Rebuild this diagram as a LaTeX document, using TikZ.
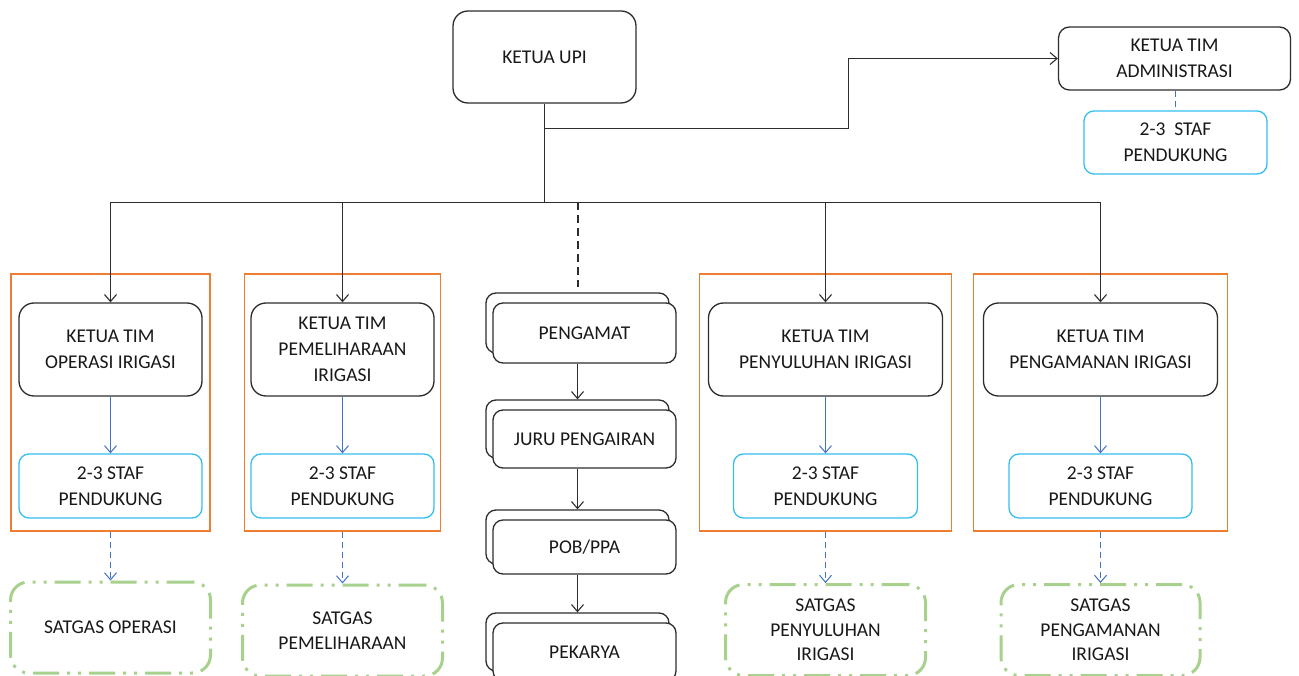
\documentclass[tikz,border=0pt]{standalone}
\usepackage{fontspec}
\setmainfont{Carlito}
\usetikzlibrary{arrows.meta}

\definecolor{frameorange}{RGB}{237,125,49}
\definecolor{stafblue}{RGB}{51,190,240}
\definecolor{linkblue}{RGB}{68,114,196}
\definecolor{satgasgreen}{RGB}{169,209,142}
\definecolor{boxgray}{RGB}{45,45,45}

\tikzset{
  lbl/.style={font=\fontsize{19.5}{26}\selectfont, align=center, text=black!90, inner sep=0pt},
  chief/.style={lbl, draw=boxgray, line width=1.3pt, rounded corners=15pt, fill=white},
  stafbox/.style={lbl, draw=stafblue, line width=1.3pt, rounded corners=10pt, fill=white},
  unitframe/.style={draw=frameorange, line width=1.2pt, inner sep=0pt},
  satgas/.style={lbl, font=\fontsize{19.5}{24.5}\selectfont, draw=satgasgreen, line width=3pt,
    rounded corners=18pt, dash pattern=on 26pt off 8pt on 3pt off 8pt on 3pt off 8pt},
  unitbox/.style={lbl, draw=boxgray, line width=1.3pt, rounded corners=10pt, fill=white,
    minimum width=183pt},
  tip/.style={-{Straight Barb[length=7pt,width=12pt]}},
  link/.style={draw=boxgray, line width=1.1pt},
  bluelink/.style={draw=linkblue, line width=1pt},
  bluedash/.style={bluelink, dash pattern=on 6pt off 4pt},
}

\begin{document}
\begin{tikzpicture}[x=1pt,y=-1pt]
\clip (0,0) rectangle (1299,676);
\fill[white] (0,0) rectangle (1299,676);

% orange frames around each team
\node[unitframe, minimum width=199pt, minimum height=257pt] (o1) at (110.5,402.5) {};
\node[unitframe, minimum width=196pt, minimum height=257pt] (o2) at (342.5,402.5) {};
\node[unitframe, minimum width=252pt, minimum height=257pt] (o3) at (825.5,402.5) {};
\node[unitframe, minimum width=254pt, minimum height=257pt] (o4) at (1100.5,402.5) {};

% top level
\node[chief, minimum width=183pt, minimum height=92pt] (upi) at (544.5,57) {KETUA UPI};
\node[chief, rounded corners=11pt, minimum width=232pt, minimum height=63pt] (adm) at (1174.5,58.5) {KETUA TIM\\ADMINISTRASI};
\node[stafbox, minimum width=183pt, minimum height=63pt] (admstaf) at (1175.5,142.5) {2-3\ \ STAF\\PENDUKUNG};

% team leaders
\node[chief, minimum width=183pt, minimum height=93pt] (k1) at (110.5,349.5) {KETUA TIM\\OPERASI IRIGASI};
\node[chief, minimum width=183pt, minimum height=93pt] (k2) at (342.5,349.5) {KETUA TIM\\PEMELIHARAAN\\IRIGASI};
\node[chief, minimum width=234pt, minimum height=93pt] (k3) at (825.5,349.5) {KETUA TIM\\PENYULUHAN IRIGASI};
\node[chief, minimum width=234pt, minimum height=93pt] (k4) at (1100.5,349.5) {KETUA TIM\\PENGAMANAN IRIGASI};

% support staff
\node[stafbox, minimum width=183pt, minimum height=64pt] (s1) at (110.5,486) {2-3 STAF\\PENDUKUNG};
\node[stafbox, minimum width=183pt, minimum height=64pt] (s2) at (342.5,486) {2-3 STAF\\PENDUKUNG};
\node[stafbox, minimum width=184pt, minimum height=64pt] (s3) at (825.5,486) {2-3 STAF\\PENDUKUNG};
\node[stafbox, minimum width=183pt, minimum height=64pt] (s4) at (1100.5,486) {2-3 STAF\\PENDUKUNG};

% task forces
\node[satgas, minimum width=200pt, minimum height=91pt] (g1) at (110.5,627.5) {SATGAS OPERASI};
\node[satgas, minimum width=200pt, minimum height=91pt] (g2) at (342.5,630.5) {SATGAS\\PEMELIHARAAN};
\node[satgas, minimum width=200pt, minimum height=91pt] (g3) at (825.5,630) {SATGAS\\PENYULUHAN\\IRIGASI};
\node[satgas, minimum width=199pt, minimum height=91pt] (g4) at (1100.5,630) {SATGAS\\PENGAMANAN\\IRIGASI};

% field staff column (stacked boxes)
\node[unitbox, minimum height=60pt] (p1b) at (577.5,323) {};
\node[unitbox, minimum height=60pt] (p1) at (584.5,333) {PENGAMAT};
\node[unitbox, minimum height=58pt] (p2b) at (577.5,429) {};
\node[unitbox, minimum height=58pt] (p2) at (584.5,439) {JURU PENGAIRAN};
\node[unitbox, minimum height=54pt] (p3b) at (577.5,537) {};
\node[unitbox, minimum height=54pt] (p3) at (584.5,547) {POB/PPA};
\node[unitbox, minimum height=58pt] (p4b) at (577.5,642) {};
\node[unitbox, minimum height=58pt] (p4) at (584.5,652) {PEKARYA};

% junction points of the main bus
\coordinate (bus) at (544.5,202.5);
\coordinate (busL) at (110.5,202.5);
\coordinate (busR) at (1100.5,202.5);
\coordinate (fork) at (544.5,128.5);
\coordinate (bend) at (848.5,128.5);
\coordinate (fieldend) at (578,287);

% black connectors
\draw[link] (upi.south) -- (bus);
\draw[link] (busL) -- (busR);
\draw[link, tip] (busL) -- (k1.north);
\draw[link, tip] (k2.north |- bus) -- (k2.north);
\draw[link, tip] (k3.north |- bus) -- (k3.north);
\draw[link, tip] (busR) -- (k4.north);
\draw[link, tip] (fork) -- (bend) -- (bend |- adm.west) -- (adm.west);
\draw[link, line width=2.5pt, dash pattern=on 8pt off 5pt] (fieldend |- bus) -- (fieldend);

\draw[link, tip] (p1.south -| p2b.north) -- (p2b.north);
\draw[link, tip] (p2.south -| p3b.north) -- (p3b.north);
\draw[link, tip] (p3.south -| p4b.north) -- (p4b.north);

% blue connectors
\draw[bluedash] (adm.south -| admstaf.north) -- (admstaf.north);
\foreach \i in {1,...,4} {
  \draw[bluelink, tip] (k\i.south) -- (k\i.south |- s\i.north);
  \draw[bluedash, tip] (o\i.south -| g\i.north) -- (g\i.north);
}
\end{tikzpicture}
\end{document}
